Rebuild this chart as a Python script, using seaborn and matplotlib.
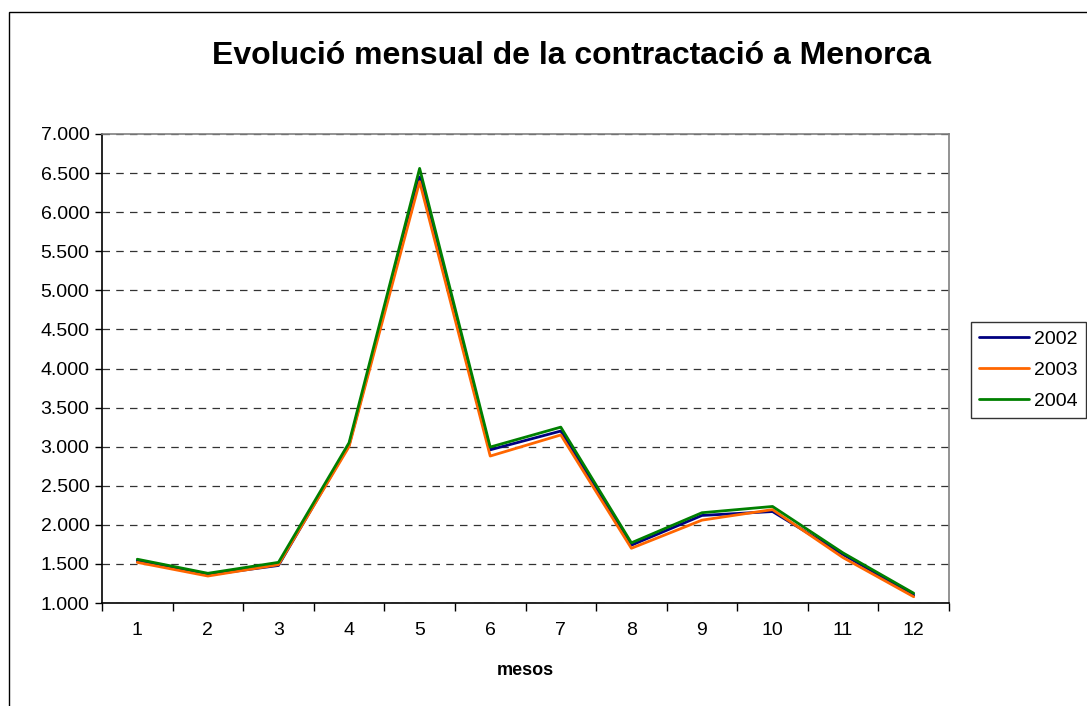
import pandas as pd
import seaborn as sns
import matplotlib.pyplot as plt
from matplotlib.ticker import FuncFormatter, MultipleLocator
from matplotlib.patches import Rectangle

months = list(range(1, 13))
years = ['2002', '2003', '2004']
v2002 = [1540, 1360, 1480, 3020, 6450, 2960, 3200, 1740, 2120, 2170, 1620, 1100]
v2003 = [1520, 1345, 1490, 3000, 6390, 2880, 3150, 1700, 2060, 2195, 1580, 1080]
v2004 = [1560, 1380, 1520, 3050, 6560, 2995, 3250, 1770, 2155, 2235, 1640, 1125]
colors = ['#000080', '#FF6600', '#008000']

df = pd.DataFrame({
    'mes': months * 3,
    'valor': v2002 + v2003 + v2004,
    'any': [y for y in years for _ in months],
})

sns.set_style('white')
plt.rcParams['font.family'] = ['Liberation Sans', 'DejaVu Sans']
plt.rcParams['text.color'] = 'black'
plt.rcParams['xtick.color'] = 'black'
plt.rcParams['ytick.color'] = 'black'
plt.rcParams['axes.labelcolor'] = 'black'

fig = plt.figure(figsize=(10.87, 7.06), dpi=100)
ax = fig.add_axes([102 / 1087, 1 - 603 / 706, 847 / 1087, 469 / 706])

# figure frame
fig.patches.append(Rectangle((9 / 1087, -0.01), 1.1, 1 - 12 / 706 + 0.01,
                             transform=fig.transFigure, fill=False,
                             edgecolor='black', linewidth=1))

sns.lineplot(data=df, x='mes', y='valor', hue='any', palette=colors,
             linewidth=2, ax=ax, legend=True)

ax.set_xlim(0.5, 12.5)
ax.set_ylim(1000, 7000)
ax.yaxis.set_major_locator(MultipleLocator(500))
ax.yaxis.set_major_formatter(FuncFormatter(lambda v, p: f'{int(v):,}'.replace(',', '.')))
ax.set_xticks(months)
ax.set_xticks([m + 0.5 for m in range(0, 13)], minor=True)
ax.tick_params(axis='x', which='major', length=0, labelsize=14, pad=14)
ax.tick_params(axis='x', which='minor', length=6, direction='out', width=1)
ax.tick_params(axis='y', which='major', length=5, direction='out', width=1,
               labelsize=14, pad=4)
ax.xaxis.set_ticks_position('bottom')
ax.yaxis.set_ticks_position('left')

ax.grid(axis='y', linestyle=(0, (6, 5)), color='#333333', linewidth=0.9)
ax.set_axisbelow(True)

for s in ['left', 'bottom']:
    ax.spines[s].set_color('black')
    ax.spines[s].set_linewidth(1.2)
for s in ['top', 'right']:
    ax.spines[s].set_color('#808080')
    ax.spines[s].set_linewidth(1.2)

ax.set_xlabel('mesos', fontsize=13, fontweight='bold', labelpad=16)
ax.set_ylabel('')
fig.text(572 / 1087, 1 - 56 / 706, 'Evolució mensual de la contractació a Menorca',
         ha='center', va='center', fontsize=23, fontweight='bold')

leg = ax.legend(title=None, loc='center left', bbox_to_anchor=(971 / 1087, 1 - 370 / 706),
                bbox_transform=fig.transFigure, frameon=True, fancybox=False,
                fontsize=14, handlelength=2.6, handletextpad=0.25, borderpad=0.4,
                labelspacing=0.7, borderaxespad=0)
leg.get_frame().set_edgecolor('black')
leg.get_frame().set_linewidth(1)
for line in leg.get_lines():
    line.set_linewidth(2)

fig.savefig('out.png', dpi=100)
